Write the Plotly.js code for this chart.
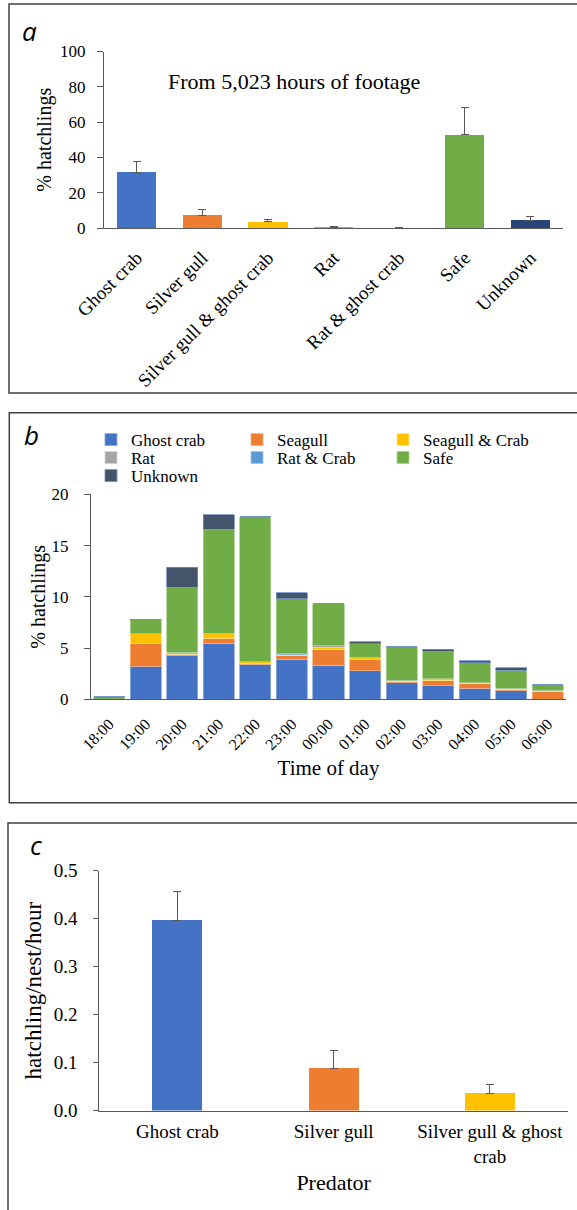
<!DOCTYPE html>
<html>
<head>
<meta charset="utf-8">
<script src="https://cdn.plot.ly/plotly-3.0.1.min.js"></script>
<style>html,body{margin:0;padding:0;background:#fff;}#chart{width:577px;height:1210px;}</style>
</head>
<body>
<div id="chart"></div>
<script>
// ---- Panel a data ----
const catsA = ["Ghost crab", "Silver gull", "Silver gull & ghost crab", "Rat", "Rat & ghost crab", "Safe", "Unknown"];
const valsA = [31.5, 7.3, 3.6, 0.3, 0.2, 52.9, 4.3];
const errA  = [6.2, 3.4, 1.3, 0.3, 0.2, 15.3, 2.1];
const colorsA = ["#4472C4", "#ED7D31", "#FFC000", "#A5A5A5", "#5B9BD5", "#70AD47", "#264478"];

// ---- Panel b data ----
const timesB = ["18:00","19:00","20:00","21:00","22:00","23:00","00:00","01:00","02:00","03:00","04:00","05:00","06:00"];
const ghostCrabB   = [0, 3.2, 4.3, 5.4, 3.4, 3.85, 3.3, 2.8, 1.6, 1.33, 1.1, 0.85, 0];
const seagullB     = [0, 2.2, 0.1, 0.5, 0.1, 0.45, 1.55, 1.1, 0.1, 0.47, 0.45, 0.1, 0.75];
const seagullCrabB = [0, 1.0, 0.2, 0.55, 0.15, 0.05, 0.25, 0.2, 0.15, 0.2, 0.05, 0.15, 0.13];
const ratB         = [0, 0, 0, 0, 0, 0, 0.1, 0, 0, 0, 0, 0, 0];
const ratCrabB     = [0, 0, 0, 0, 0, 0.1, 0, 0, 0, 0, 0, 0, 0];
const safeB        = [0.25, 1.4, 6.35, 10.15, 14.15, 5.35, 4.1, 1.3, 3.3, 2.7, 1.95, 1.75, 0.52];
const unknownB     = [0, 0, 1.95, 1.4, 0, 0.6, 0, 0.2, 0, 0.2, 0.2, 0.25, 0];
const seriesNamesB = ["Ghost crab", "Seagull", "Seagull & Crab", "Rat", "Rat & Crab", "Safe", "Unknown"];
const colorsB = ["#4472C4", "#ED7D31", "#FFC000", "#A5A5A5", "#5B9BD5", "#70AD47", "#44546A"];
const lineColorsB = ["#8FAADC", "#F4B183", "#FFE699", "#D0D0D0", "#9DC3E6", "#A9D18E", "#6F8FC8"];
const legendRowB = ["legend", "legend", "legend", "legend2", "legend2", "legend2", "legend3"];

// ---- Panel c data ----
const catsC = ["Ghost crab", "Silver gull", "Silver gull & ghost<br>crab"];
const valsC = [0.397, 0.088, 0.036];
const errC  = [0.060, 0.037, 0.018];
const colorsC = ["#4472C4", "#ED7D31", "#FFC000"];

const W = 577, H = 1210;
const px = v => v / W;
const py = v => 1 - v / H;
const SERIF = "Liberation Serif";
const SANS = "Open Sans";
const AX = "#595959";

const traces = [];
traces.push({
  type: "bar", x: catsA, y: valsA, xaxis: "x", yaxis: "y", showlegend: false, width: 0.6,
  marker: {color: colorsA},
  error_y: {type: "data", symmetric: false, array: errA, arrayminus: errA.map(() => 0),
            color: "#595959", thickness: 1, width: 4}
});
const seriesB = [ghostCrabB, seagullB, seagullCrabB, ratB, ratCrabB, safeB, unknownB];
seriesB.forEach((s, i) => {
  traces.push({
    type: "bar", name: seriesNamesB[i], x: timesB, y: s, xaxis: "x2", yaxis: "y2", width: 0.85,
    legend: legendRowB[i],
    marker: {color: colorsB[i], line: {color: lineColorsB[i], width: 0.8}}
  });
});
traces.push({
  type: "bar", x: catsC, y: valsC, xaxis: "x3", yaxis: "y3", showlegend: false, width: 0.32,
  marker: {color: colorsC},
  error_y: {type: "data", symmetric: false, array: errC, arrayminus: errC.map(() => 0),
            color: "#595959", thickness: 1, width: 4}
});

const yBase = {
  showline: true, linecolor: AX, linewidth: 1, ticks: "outside", ticklen: 6, tickcolor: AX,
  showgrid: false, zeroline: false, fixedrange: true
};
const xBase = {
  showline: true, linecolor: AX, linewidth: 1.3, ticks: "", showgrid: false, zeroline: false,
  type: "category", fixedrange: true
};
const legendBase = {
  orientation: "h", x: px(91), xanchor: "left", yanchor: "middle",
  font: {family: SERIF, size: 17, color: "#000"},
  entrywidth: 101, entrywidthmode: "pixels", traceorder: "normal",
  bgcolor: "rgba(0,0,0,0)", borderwidth: 0, itemclick: false, itemdoubleclick: false
};

const layout = {
  width: W, height: H,
  margin: {l: 0, r: 0, t: 0, b: 0},
  paper_bgcolor: "#fff", plot_bgcolor: "#fff",
  font: {family: SERIF, color: "#000", size: 16},
  barmode: "stack",
  showlegend: true,
  legend: Object.assign({}, legendBase, {y: py(440)}),
  legend2: Object.assign({}, legendBase, {y: py(458)}),
  legend3: Object.assign({}, legendBase, {y: py(476)}),
  // Panel a
  xaxis: Object.assign({}, xBase, {
    domain: [px(104), px(563)], anchor: "y", tickangle: -45,
    tickfont: {family: SERIF, size: 19, color: "#000"}, ticklabelstandoff: 10
  }),
  yaxis: Object.assign({}, yBase, {
    domain: [py(228), py(51.5)], anchor: "x", range: [0, 100], tickvals: [0, 20, 40, 60, 80, 100],
    tickfont: {family: SERIF, size: 17, color: "#000"}, ticklabelstandoff: 8,
    title: {text: "% hatchlings", font: {family: SERIF, size: 20, color: "#000"}, standoff: 3}
  }),
  // Panel b
  xaxis2: Object.assign({}, xBase, {
    domain: [px(91), px(566)], anchor: "y2", tickangle: -45,
    tickfont: {family: SERIF, size: 16, color: "#000"}, ticklabelstandoff: 8,
    title: {text: "Time of day", font: {family: SERIF, size: 21, color: "#000"}, standoff: 8}
  }),
  yaxis2: Object.assign({}, yBase, {
    domain: [py(699.3), py(494.3)], anchor: "x2", range: [0, 20], tickvals: [0, 5, 10, 15, 20],
    tickfont: {family: SERIF, size: 17, color: "#000"}, ticklabelstandoff: 12,
    title: {text: "% hatchlings", font: {family: SERIF, size: 20, color: "#000"}, standoff: 0}
  }),
  // Panel c
  xaxis3: Object.assign({}, xBase, {
    domain: [px(99.3), px(568)], anchor: "y3",
    tickfont: {family: SERIF, size: 19, color: "#000"}, ticklabelstandoff: 4,
    title: {text: "Predator", font: {family: SERIF, size: 22, color: "#000"}, standoff: 8}
  }),
  yaxis3: Object.assign({}, yBase, {
    domain: [py(1110.5), py(870.7)], anchor: "x3", range: [0, 0.5],
    tickvals: [0, 0.1, 0.2, 0.3, 0.4, 0.5], tickformat: ".1f", ticklen: 5,
    tickfont: {family: SERIF, size: 19, color: "#000"}, ticklabelstandoff: 12,
    title: {text: "hatchling/nest/hour", font: {family: SERIF, size: 23, color: "#000"}, standoff: 5}
  }),
  shapes: [
    {type: "rect", xref: "paper", yref: "paper", x0: px(9), x1: 1.05, y0: py(393), y1: py(4),
     line: {color: "#404040", width: 1.5}, fillcolor: "rgba(0,0,0,0)"},
    {type: "rect", xref: "paper", yref: "paper", x0: px(9.3), x1: 1.05, y0: py(802.7), y1: py(412.7),
     line: {color: "#404040", width: 1.5}, fillcolor: "rgba(0,0,0,0)"},
    {type: "rect", xref: "paper", yref: "paper", x0: px(8), x1: 1.05, y0: -0.05, y1: py(823),
     line: {color: "#404040", width: 1.5}, fillcolor: "rgba(0,0,0,0)"}
  ],
  annotations: [
    {xref: "paper", yref: "paper", x: px(29), y: py(31), xanchor: "center", yanchor: "middle",
     text: "a", showarrow: false, font: {family: SANS, size: 26, style: "italic", color: "#000"}},
    {xref: "paper", yref: "paper", x: px(31), y: py(435), xanchor: "center", yanchor: "middle",
     text: "b", showarrow: false, font: {family: SANS, size: 26, style: "italic", color: "#000"}},
    {xref: "paper", yref: "paper", x: px(36), y: py(845), xanchor: "center", yanchor: "middle",
     text: "c", showarrow: false, font: {family: SANS, size: 26, style: "italic", color: "#000"}},
    {xref: "paper", yref: "paper", x: px(294), y: py(82), xanchor: "center", yanchor: "middle",
     text: "From 5,023 hours of footage", showarrow: false,
     font: {family: SERIF, size: 22, color: "#000"}}
  ]
};

Plotly.newPlot("chart", traces, layout, {displayModeBar: false});
</script>
</body>
</html>
